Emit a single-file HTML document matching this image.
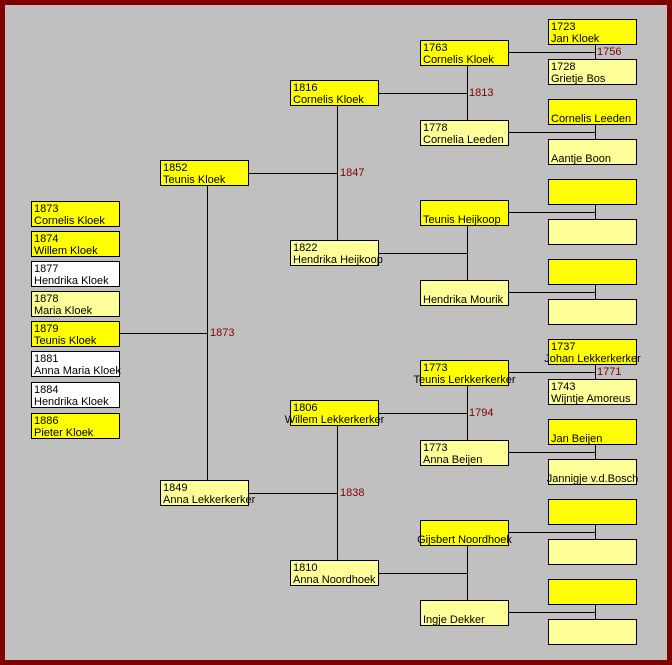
<!DOCTYPE html>
<html><head><meta charset="utf-8"><style>
body{margin:0;width:672px;height:665px;overflow:hidden;background:#800000;}
#bg{position:absolute;left:5px;top:5px;width:662px;height:655px;background:#c0c0c0;}
.b{position:absolute;width:87px;height:23px;padding-top:1px;border:1px solid #000;font:11px/12px "Liberation Sans",sans-serif;color:#000;white-space:nowrap;}
.b div{height:12px;padding-left:2px;}
.y{background:#ffff00}.l{background:#ffff99}.w{background:#fff}
.c div.n{display:flex;justify-content:center;padding:0;}
.t{position:absolute;font:11px/12px "Liberation Sans",sans-serif;color:#800000;}
svg{position:absolute;left:0;top:0}
</style></head><body>
<div id="bg"></div>
<svg width="672" height="665"><g stroke="#000" stroke-width="1" shape-rendering="crispEdges" fill="none">
<path d="M119 333.5H207.5M207.5 186V480M249 173.5H337.5M249 493.5H337.5"/>
<path d="M337.5 106V240M337.5 426V560"/>
<path d="M379 93.5H467.5M467.5 66V120M379 253.5H467.5M467.5 226V280M379 413.5H467.5M467.5 386V440M379 573.5H467.5M467.5 546V600"/>
<path d="M509 52.5H595.5M595.5 44V59M509 132.5H595.5M595.5 124V139M509 212.5H595.5M595.5 204V219M509 292.5H595.5M595.5 284V299M509 372.5H595.5M595.5 364V379M509 452.5H595.5M595.5 444V459M509 532.5H595.5M595.5 524V539M509 612.5H595.5M595.5 604V619"/>
</g></svg>
<div class="t" style="left:210px;top:327px">1873</div>
<div class="t" style="left:340px;top:167px">1847</div>
<div class="t" style="left:340px;top:487px">1838</div>
<div class="t" style="left:469px;top:87px">1813</div>
<div class="t" style="left:469px;top:407px">1794</div>
<div class="t" style="left:597px;top:46px">1756</div>
<div class="t" style="left:597px;top:366px">1771</div>

<div class="b y" style="left:31px;top:201px"><div>1873</div><div>Cornelis Kloek</div></div>
<div class="b y" style="left:31px;top:231px"><div>1874</div><div>Willem Kloek</div></div>
<div class="b w" style="left:31px;top:261px"><div>1877</div><div>Hendrika Kloek</div></div>
<div class="b l" style="left:31px;top:291px"><div>1878</div><div>Maria Kloek</div></div>
<div class="b y" style="left:31px;top:321px"><div>1879</div><div>Teunis Kloek</div></div>
<div class="b w" style="left:31px;top:351px"><div>1881</div><div>Anna Maria Kloek</div></div>
<div class="b w" style="left:31px;top:382px"><div>1884</div><div>Hendrika Kloek</div></div>
<div class="b y" style="left:31px;top:413px"><div>1886</div><div>Pieter Kloek</div></div>

<div class="b y" style="left:160px;top:160px"><div>1852</div><div>Teunis Kloek</div></div>
<div class="b l" style="left:160px;top:480px"><div>1849</div><div>Anna Lekkerkerker</div></div>

<div class="b y" style="left:290px;top:80px"><div>1816</div><div>Cornelis Kloek</div></div>
<div class="b l" style="left:290px;top:240px"><div>1822</div><div>Hendrika Heijkoop</div></div>
<div class="b y c" style="left:290px;top:400px"><div>1806</div><div class="n">Willem Lekkerkerker</div></div>
<div class="b l" style="left:290px;top:560px"><div>1810</div><div>Anna Noordhoek</div></div>

<div class="b y" style="left:420px;top:40px"><div>1763</div><div>Cornelis Kloek</div></div>
<div class="b l" style="left:420px;top:120px"><div>1778</div><div>Cornelia Leeden</div></div>
<div class="b y" style="left:420px;top:200px"><div></div><div>Teunis Heijkoop</div></div>
<div class="b l" style="left:420px;top:280px"><div></div><div>Hendrika Mourik</div></div>
<div class="b y c" style="left:420px;top:360px"><div>1773</div><div class="n">Teunis Lerkkerkerker</div></div>
<div class="b l" style="left:420px;top:440px"><div>1773</div><div>Anna Beijen</div></div>
<div class="b y c" style="left:420px;top:520px"><div></div><div class="n">Gijsbert Noordhoek</div></div>
<div class="b l" style="left:420px;top:600px"><div></div><div>Ingje Dekker</div></div>

<div class="b y" style="left:548px;top:19px"><div>1723</div><div>Jan Kloek</div></div>
<div class="b l" style="left:548px;top:59px"><div>1728</div><div>Grietje Bos</div></div>
<div class="b y" style="left:548px;top:99px"><div></div><div>Cornelis Leeden</div></div>
<div class="b l" style="left:548px;top:139px"><div></div><div>Aantje Boon</div></div>
<div class="b y" style="left:548px;top:179px"></div>
<div class="b l" style="left:548px;top:219px"></div>
<div class="b y" style="left:548px;top:259px"></div>
<div class="b l" style="left:548px;top:299px"></div>
<div class="b y c" style="left:548px;top:339px"><div>1737</div><div class="n">Johan Lekkerkerker</div></div>
<div class="b l" style="left:548px;top:379px"><div>1743</div><div>Wijntje Amoreus</div></div>
<div class="b y" style="left:548px;top:419px"><div></div><div>Jan Beijen</div></div>
<div class="b l c" style="left:548px;top:459px"><div></div><div class="n">Jannigje v.d.Bosch</div></div>
<div class="b y" style="left:548px;top:499px"></div>
<div class="b l" style="left:548px;top:539px"></div>
<div class="b y" style="left:548px;top:579px"></div>
<div class="b l" style="left:548px;top:619px"></div>
</body></html>
